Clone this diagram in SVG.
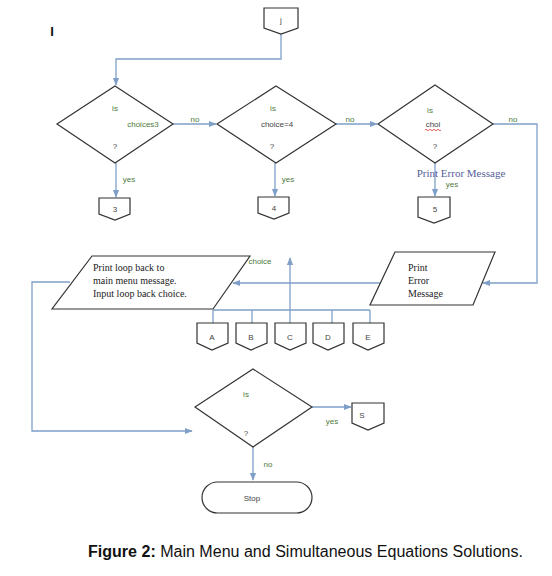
<svg xmlns="http://www.w3.org/2000/svg" width="552" height="576" viewBox="0 0 552 576">
<style>
.shape{fill:#fff;stroke:#333;stroke-width:1.2}
.conn{fill:none;stroke:#7f9fc8;stroke-width:1.3}
.t{font-family:"Liberation Sans",Arial,sans-serif;font-size:8px;fill:#444;text-anchor:middle}
.g{font-family:"Liberation Sans",Arial,sans-serif;font-size:8px;fill:#4d7a3a;text-anchor:middle}
.s{font-family:"Liberation Serif","Times New Roman",serif;font-size:10px;fill:#222}
</style>
<defs>
<marker id="ah" viewBox="0 0 10 10" refX="9" refY="5" markerWidth="6" markerHeight="6" orient="auto">
<path d="M0,1 L10,5 L0,9 Z" fill="#7f9fc8"/>
</marker>
</defs>
<rect width="552" height="576" fill="#fff"/>
<text x="52" y="36" font-family="Liberation Sans,Arial,sans-serif" font-size="13" font-weight="bold" fill="#111" text-anchor="middle">I</text>

<g id="connectors">
<polyline class="conn" points="281,33 281,59 116,59 116,85" marker-end="url(#ah)"/>
<line class="conn" x1="173" y1="124" x2="216" y2="124" marker-end="url(#ah)"/>
<line class="conn" x1="336" y1="124" x2="377" y2="124" marker-end="url(#ah)"/>
<polyline class="conn" points="493,124 537,124 537,283 483,283" marker-end="url(#ah)"/>
<line class="conn" x1="116" y1="163" x2="116" y2="197" marker-end="url(#ah)"/>
<line class="conn" x1="275" y1="163" x2="275" y2="196" marker-end="url(#ah)"/>
<line class="conn" x1="435" y1="163" x2="435" y2="196" marker-end="url(#ah)"/>
<line class="conn" x1="383" y1="283" x2="233" y2="283" marker-end="url(#ah)"/>
<polyline class="conn" points="70,282 32,282 32,431 192,431" marker-end="url(#ah)"/>
<line class="conn" x1="213" y1="310" x2="370" y2="310"/>
<line class="conn" x1="213" y1="310" x2="213" y2="323"/>
<line class="conn" x1="252" y1="310" x2="252" y2="323"/>
<line class="conn" x1="332" y1="310" x2="332" y2="323"/>
<line class="conn" x1="370" y1="310" x2="370" y2="323"/>
<line class="conn" x1="290" y1="323" x2="290" y2="258" marker-end="url(#ah)"/>
<line class="conn" x1="312" y1="407" x2="351" y2="407" marker-end="url(#ah)"/>
<line class="conn" x1="253" y1="447" x2="253" y2="480" marker-end="url(#ah)"/>
<text class="g" x="195" y="122">no</text>
<text class="g" x="350" y="122">no</text>
<text class="g" x="513" y="122">no</text>
<text class="g" x="129" y="182">yes</text>
<text class="g" x="288" y="182">yes</text>
<text class="g" x="452" y="187" font-size="7">yes</text>
<text class="g" x="332" y="424">yes</text>
<text class="g" x="268" y="467">no</text>
<text class="g" x="260" y="264" font-size="9">choice</text>
</g>

<g id="conn_j">
<path class="shape" d="M264,8 L298,8 L298,28 L281,34 L264,28 Z"/>
<text class="t" x="281" y="23">j</text>
</g>

<g id="dec1">
<path class="shape" d="M115,86 L173,124 L115,163 L57,124 Z"/>
<text class="g" x="115" y="111">is</text>
<text class="g" x="143" y="127">choices3</text>
<text class="t" x="115" y="149">?</text>
</g>

<g id="dec2">
<path class="shape" d="M276,86 L336,124 L276,163 L217,124 Z"/>
<text class="g" x="273" y="111">is</text>
<text class="t" x="277" y="127">choice=4</text>
<text class="t" x="272" y="149">?</text>
</g>

<g id="dec3">
<path class="shape" d="M435,85 L493,124 L435,163 L378,124 Z"/>
<text class="g" x="430" y="113">is</text>
<text class="t" x="433" y="127" fill="#8a2a2a">choi</text>
<path d="M425,130 q1,-1.5 2,0 t2,0 t2,0 t2,0 t2,0 t2,0 t2,0 t2,0" fill="none" stroke="#d33" stroke-width="0.8"/>
<text class="t" x="435" y="149">?</text>
</g>

<text x="461" y="177" font-family="Liberation Serif,Times New Roman,serif" font-size="11" fill="#56609a" text-anchor="middle">Print Error Message</text>

<g id="conn_3">
<path class="shape" d="M99,198 L130,198 L130,214 L115,220 L99,214 Z"/>
<text class="t" x="115" y="212">3</text>
</g>
<g id="conn_4">
<path class="shape" d="M258,197 L289,197 L289,213 L274,219 L258,213 Z"/>
<text class="t" x="274" y="211">4</text>
</g>
<g id="conn_5">
<path class="shape" d="M418,197 L450,197 L450,217 L434,223 L418,217 Z"/>
<text class="t" x="435" y="212">5</text>
</g>

<g id="print_error">
<path class="shape" d="M395,252 L495,252 L473,305 L370,305 Z"/>
<text class="s" x="408" y="271">Print</text>
<text class="s" x="408" y="284">Error</text>
<text class="s" x="408" y="297">Message</text>
</g>

<g id="print_loop">
<path class="shape" d="M92,256 L250,256 L213,309 L52,309 Z"/>
<text class="s" x="93" y="271">Print loop back to</text>
<text class="s" x="93" y="284">main menu message.</text>
<text class="s" x="93" y="297">Input loop back choice.</text>
</g>

<g id="conn_A"><path class="shape" d="M197,323 L228,323 L228,343 L212,350 L197,343 Z"/><text class="t" x="212" y="340">A</text></g>
<g id="conn_B"><path class="shape" d="M236,323 L267,323 L267,343 L251,350 L236,343 Z"/><text class="t" x="251" y="340">B</text></g>
<g id="conn_C"><path class="shape" d="M275,323 L306,323 L306,343 L290,350 L275,343 Z"/><text class="t" x="290" y="340">C</text></g>
<g id="conn_D"><path class="shape" d="M313,323 L344,323 L344,343 L328,350 L313,343 Z"/><text class="t" x="328" y="340">D</text></g>
<g id="conn_E"><path class="shape" d="M353,323 L384,323 L384,343 L368,350 L353,343 Z"/><text class="t" x="368" y="340">E</text></g>

<g id="dec4">
<path class="shape" d="M253,369 L312,407 L253,447 L195,407 Z"/>
<text class="g" x="246" y="397">is</text>
<text class="t" x="246" y="436">?</text>
</g>

<g id="conn_S">
<path class="shape" d="M352,403 L384,403 L384,423 L368,430 L352,423 Z"/>
<text class="t" x="362" y="418">S</text>
</g>

<g id="stop">
<rect class="shape" x="202" y="482" width="110" height="31" rx="15.5"/>
<text class="t" x="252" y="501">Stop</text>
</g>

<text x="88" y="557" font-family="Liberation Sans Narrow,Liberation Sans,Arial,sans-serif" font-size="16" fill="#111" textLength="435" lengthAdjust="spacingAndGlyphs"><tspan font-weight="bold">Figure 2:</tspan> Main Menu and Simultaneous Equations Solutions.</text>
</svg>
